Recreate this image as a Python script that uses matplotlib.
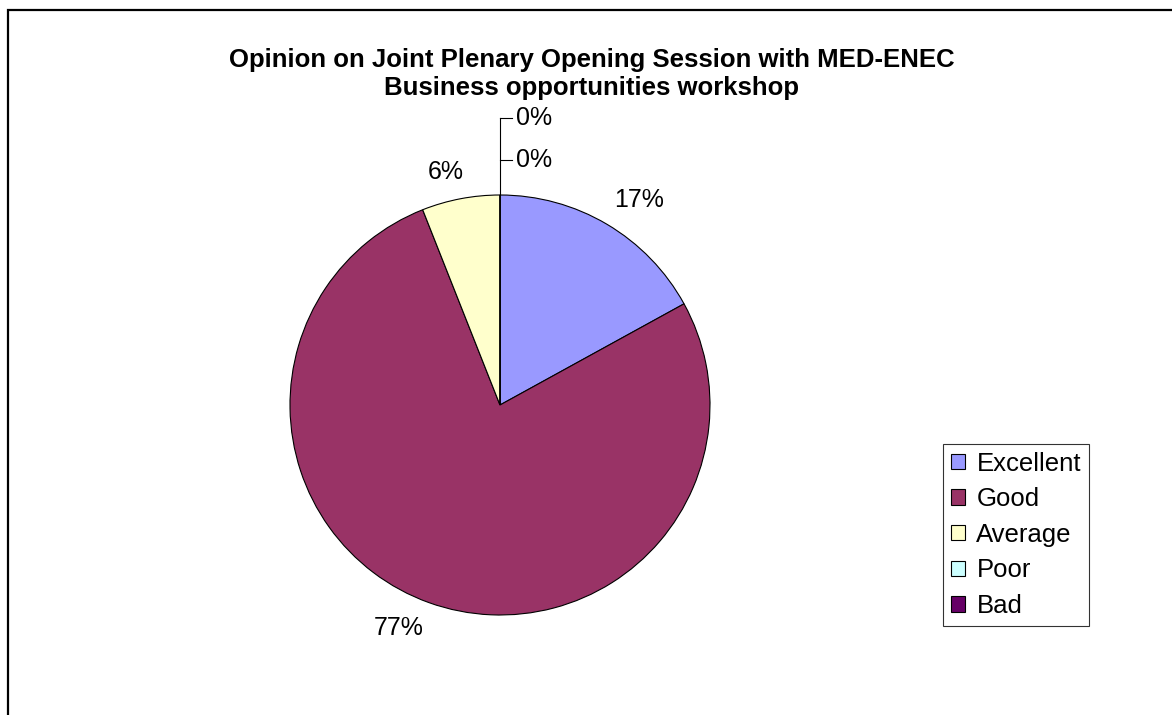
import math

import matplotlib

matplotlib.use("Agg")
import matplotlib.pyplot as plt
from matplotlib.patches import Patch

plt.rcParams["font.family"] = ["Liberation Sans", "DejaVu Sans"]

categories = ["Excellent", "Good", "Average", "Poor", "Bad"]
shares = [17, 77, 6, 0, 0]
colors = ["#9999FF", "#993366", "#FFFFCC", "#CCFFFF", "#660066"]
title = "Opinion on Joint Plenary Opening Session with MED-ENEC\nBusiness opportunities workshop"

W, H = 1172, 715
fig = plt.figure(figsize=(W / 100, H / 100), dpi=100)
ax = fig.add_axes([0, 0, 1, 1])

cx, cy, r = 500, H - 405, 210
wedges, _ = ax.pie(
    shares,
    colors=colors,
    startangle=90,
    counterclock=False,
    center=(cx, cy),
    radius=r,
    wedgeprops=dict(edgecolor="black", linewidth=0.8),
)
ax.set_xlim(0, W)
ax.set_ylim(0, H)
ax.set_aspect("equal", adjustable="box")
ax.axis("off")

# percentage labels just outside each slice, anchored by the corner nearest the pie
total = sum(shares)
zero_y = [H - 118, H - 160]
zi = 0
for w, v in zip(wedges, shares):
    pct = f"{round(100 * v / total)}%"
    if v > 0:
        mid = math.radians((w.theta1 + w.theta2) / 2)
        c, s = math.cos(mid), math.sin(mid)
        d = r * 1.07
        ax.text(cx + d * c + 6 * (abs(c) < 0.3), cy + d * s, pct,
                ha="left" if c > 0 else "right",
                va="bottom" if s > 0 else "top",
                fontsize=18)
    else:
        y = zero_y[zi]
        ax.plot([cx, cx + 12], [y, y], color="black", lw=0.8)
        ax.text(cx + 16, y, pct, ha="left", va="center", fontsize=18)
        zi += 1
ax.plot([cx, cx], [cy + r, zero_y[0]], color="black", lw=0.8)

ax.text(592, H - 74, title, ha="center", va="center",
        fontsize=18.5, fontweight="bold", linespacing=1.2)

# chart-area border (top and left visible)
ax.plot([7.5, 7.5, W], [0, H - 10, H - 10], color="black", lw=1.6,
        clip_on=False, solid_joinstyle="miter")

handles = [Patch(facecolor=c, edgecolor="black", linewidth=0.8) for c in colors]
leg = fig.legend(
    handles, categories,
    loc="upper left", bbox_to_anchor=(943 / W, 1 - 444 / H),
    frameon=True, fancybox=False, edgecolor="black", fontsize=18.5,
    handlelength=0.55, handleheight=0.55, handletextpad=0.45,
    labelspacing=0.45, borderpad=0.3, borderaxespad=0,
)
leg.get_frame().set_linewidth(0.8)

fig.savefig("out.png", dpi=100)
